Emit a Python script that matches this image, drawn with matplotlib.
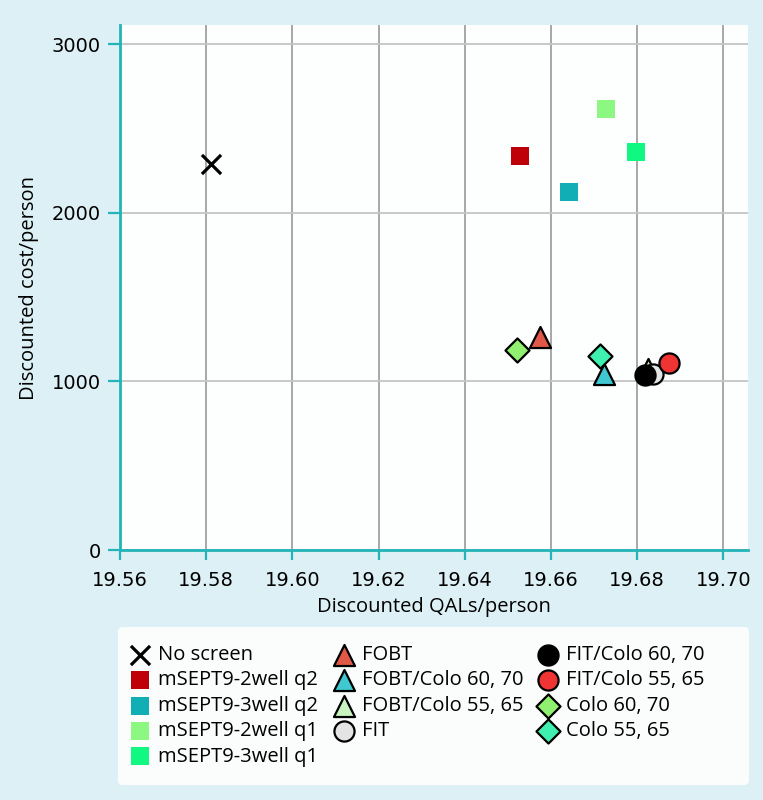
import matplotlib
matplotlib.use('Agg')
import matplotlib.pyplot as plt
from matplotlib.patches import FancyBboxPatch

# 데이터
labels = ['No screen', 'mSEPT9-2well q2', 'mSEPT9-3well q2', 'mSEPT9-2well q1', 'mSEPT9-3well q1',
          'FOBT', 'FOBT/Colo 60, 70', 'FOBT/Colo 55, 65', 'FIT',
          'FIT/Colo 60, 70', 'FIT/Colo 55, 65', 'Colo 60, 70', 'Colo 55, 65']
qals = [19.5812, 19.6528, 19.6642, 19.6728, 19.6798,
        19.6574, 19.6723, 19.6826, 19.6837,
        19.6819, 19.6874, 19.6521, 19.6714]
cost = [2290, 2337, 2124, 2615, 2361,
        1265, 1045, 1075, 1047,
        1041, 1107, 1189, 1150]

# 스타일
markers = ['x', 's', 's', 's', 's', '^', '^', '^', 'o', 'o', 'o', 'D', 'D']
colors = ['black', '#c00008', '#12aeb6', '#8cf882', '#10f882',
          '#e05848', '#40c8d0', '#c8f2c0', '#e4e4e4',
          '#000000', '#f03434', '#90f070', '#40f0b0']
sizes = [190, 160, 160, 160, 160, 230, 230, 230, 210, 210, 210, 150, 150]

bg = '#ddf0f5'
teal = '#22b4b8'
W, H = 763, 800

fig = plt.figure(figsize=(7.63, 8), dpi=100, facecolor=bg)
ax = fig.add_axes([120 / W, 1 - 550 / H, 628 / W, 525 / H])
ax.set_facecolor('#fdfefe')

for lab, x, y, m, c, s in zip(labels, qals, cost, markers, colors, sizes):
    if m == 'x':
        ax.scatter(x, y, marker=m, s=s, c=c, linewidths=2.3, label=lab, zorder=3)
    elif m == 's':
        ax.scatter(x, y, marker=m, s=s, c=c, linewidths=0, label=lab, zorder=3)
    else:
        ax.scatter(x, y, marker=m, s=s, c=c, edgecolors='black', linewidths=1.6, label=lab, zorder=3)

ax.set_xlim(19.56, 19.7057)
ax.set_ylim(0, 3115)
ax.set_xticks([19.56, 19.58, 19.60, 19.62, 19.64, 19.66, 19.68, 19.70])
ax.set_xticklabels(['19.56', '19.58', '19.60', '19.62', '19.64', '19.66', '19.68', '19.70'])
ax.set_yticks([0, 1000, 2000, 3000])

ax.grid(True, axis='x', color='#a0a0a0', linewidth=1.3, zorder=0)
ax.grid(True, axis='y', color='#c4c4c4', linewidth=1.3, zorder=0)
ax.set_axisbelow(True)

for side in ['top', 'right']:
    ax.spines[side].set_visible(False)
for side in ['left', 'bottom']:
    ax.spines[side].set_color(teal)
    ax.spines[side].set_linewidth(2)

ax.tick_params(axis='both', colors=teal, width=1.6, labelcolor='black', labelsize=14)
ax.tick_params(axis='y', length=9, pad=5)
ax.tick_params(axis='x', length=7, pad=8)
for t in ax.get_xticklabels() + ax.get_yticklabels():
    t.set_family('DejaVu Sans')

ax.set_xlabel('Discounted QALs/person', fontsize=14.5, family='Open Sans', labelpad=5)
ax.set_ylabel('Discounted cost/person', fontsize=14.5, family='Open Sans', labelpad=9)

# 범례 배경 박스
box = FancyBboxPatch((118 / W, 1 - 785 / H), 631 / W, 158 / H,
                     boxstyle='round,pad=0,rounding_size=0.006',
                     transform=fig.transFigure, facecolor='#fbfdfd', edgecolor='none', zorder=0)
fig.patches.append(box)

leg = fig.legend(loc='upper left', bbox_to_anchor=(128 / W, 1 - 645 / H),
                 ncol=3, frameon=False, borderaxespad=0, borderpad=0,
                 prop={'family': 'Open Sans', 'size': 14.5}, handletextpad=0.3,
                 labelspacing=0.27, columnspacing=0.65, scatterpoints=1, handlelength=1.2)

plt.savefig('out.png', dpi=100, facecolor=bg)
